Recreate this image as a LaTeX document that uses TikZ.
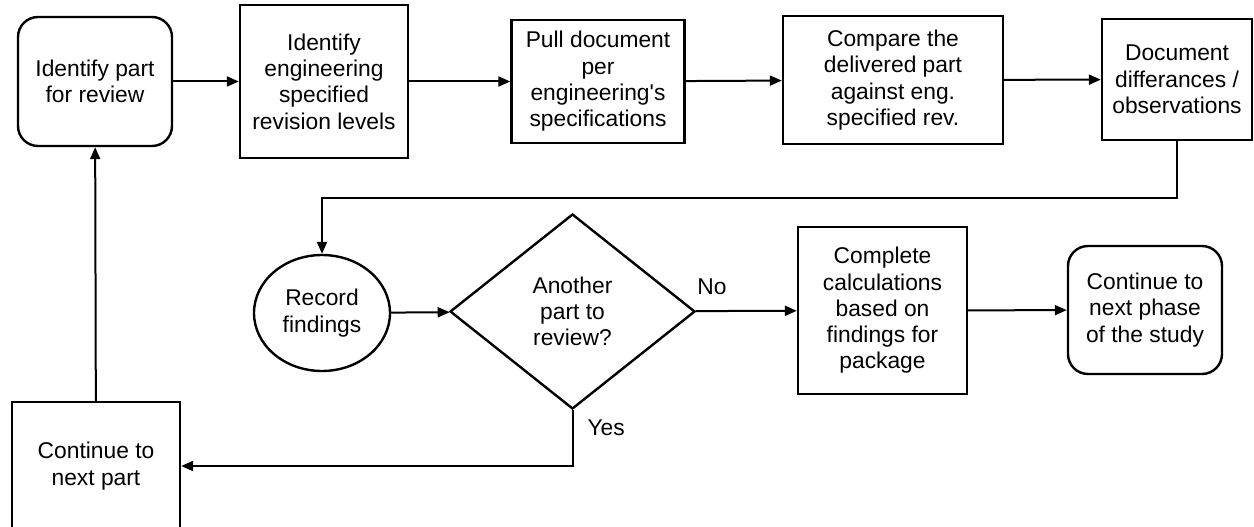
\documentclass[tikz,border=0pt]{standalone}
\usepackage{fontspec}
\setmainfont{Liberation Sans}
\usetikzlibrary{shapes.geometric,arrows.meta}

\begin{document}
\begin{tikzpicture}[x=1pt,y=-1pt,
  every node/.style={font=\fontsize{22.8}{26.3}\selectfont, align=center, inner sep=0pt},
  box/.style={draw, line width=2.4pt, rectangle},
  rbox/.style={box, rounded corners=20pt},
  oval/.style={box, ellipse},
  decision/.style={box, diamond},
  flow/.style={line width=2pt, -{Triangle[length=12pt,width=10pt]}}]
  \useasboundingbox (0,0) rectangle (1254,527);
  % top row
  \node[rbox, minimum width=154pt, minimum height=129pt] (idpart) at (95,81.5) {Identify part\\for review};
  \node[box, minimum width=168pt, minimum height=153pt] (idrev) at (324,81.5) {Identify\\engineering\\specified\\revision levels};
  \node[box, minimum width=173pt, minimum height=123pt] (pulldoc) at (598,81.5) {Pull document\\per\\engineering\textquotesingle s\\specifications};
  \node[box, minimum width=220pt, minimum height=128pt] (compare) at (893,80) {Compare the\\delivered part\\against eng.\\specified rev.};
  \node[box, minimum width=150pt, minimum height=121pt] (docdiff) at (1177,79.5) {Document\\differances /\\observations};
  % middle row
  \node[oval, minimum width=136pt, minimum height=116pt] (record) at (322,313) {Record\\findings};
  \node[decision, minimum width=245pt, minimum height=195pt] (another) at (572.5,311.5) {Another\\part to\\review?};
  \node[box, minimum width=169pt, minimum height=167pt] (calc) at (882.5,310.5) {Complete\\calculations\\based on\\findings for\\package};
  \node[rbox, minimum width=154pt, minimum height=128pt] (nextphase) at (1145,310) {Continue to\\next phase\\of the study};
  % bottom
  \node[box, minimum width=168pt, minimum height=128pt] (nextpart) at (96,466) {Continue to\\next part};

  \draw[flow] (idpart) -- (idrev);
  \draw[flow] (idrev) -- (pulldoc);
  \draw[flow] (pulldoc) -- (compare);
  \draw[flow] (compare) -- (docdiff);
  \draw[flow] (docdiff.south) -- ++(0,57) -| (record.north);
  \draw[flow] (record) -- (another);
  \draw[flow] (another) -- node[pos=0.16, above=15pt] {No} (calc);
  \draw[flow] (calc) -- (nextphase);
  \draw[flow] (another.south) |- node[pos=0.16, right=14pt] {Yes} (nextpart.east);
  \draw[flow] (nextpart) -- (idpart);
\end{tikzpicture}
\end{document}
